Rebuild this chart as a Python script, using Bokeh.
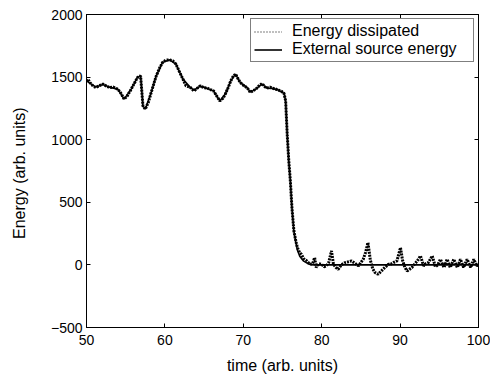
from bokeh.plotting import figure
from bokeh.models import LinearAxis, Legend, LegendItem, FixedTicker, Range1d
from bokeh.embed import file_html
from bokeh.resources import INLINE

# Energy dissipated (dotted)
diss_t = [50.0, 50.17, 50.4, 50.6, 50.9, 51.2, 51.6, 52.1, 52.5, 52.9, 53.4, 54.0, 54.4, 54.8,
          55.2, 55.7, 56.1, 56.5, 56.9, 57.2, 57.5, 57.9, 58.25, 58.6, 58.9, 59.3, 59.7, 60.1,
          60.6, 61.0, 61.4, 61.8, 62.3, 62.7, 63.2, 63.7, 64.1, 64.5, 65.0, 65.4, 65.8, 66.2,
          66.6, 67.0, 67.4, 67.7, 68.1, 68.4, 68.7, 69.0, 69.3, 69.6, 70.1, 70.5, 70.9, 71.2,
          71.6, 72.0, 72.4, 72.7, 73.0, 73.4, 73.7, 74.1, 74.5, 74.9, 75.2, 75.4, 75.6, 75.8,
          76.0, 76.2, 76.45, 76.7, 76.9, 77.2, 77.4, 77.7, 78.1, 78.4, 78.7, 78.9, 79.1, 79.3,
          79.6, 80.0, 80.3, 80.6, 80.9, 81.25, 81.5, 81.8, 82.1, 82.5, 82.95, 83.4, 83.8, 84.2,
          84.7, 85.0, 85.3, 85.6, 85.9, 86.2, 86.5, 86.8, 87.2, 87.6, 88.05, 88.5, 88.8, 89.2,
          89.6, 90.05, 90.3, 90.6, 90.9, 91.5, 91.9, 92.2, 92.6, 93.0, 93.3, 93.6, 94.1, 94.5,
          94.8, 95.15, 95.6, 96.0, 96.4, 96.85, 97.3, 97.7, 98.1, 98.55, 99.0, 99.4, 99.8, 100.0]
diss_e = [1470, 1484, 1460, 1444, 1425, 1417, 1430, 1444, 1430, 1417, 1420, 1404, 1370, 1324,
          1350, 1404, 1450, 1497, 1510, 1270, 1244, 1300, 1377, 1450, 1510, 1570, 1617, 1635,
          1638, 1630, 1604, 1550, 1484, 1430, 1420, 1390, 1410, 1430, 1415, 1412, 1400, 1390,
          1350, 1310, 1330, 1364, 1420, 1470, 1505, 1524, 1490, 1457, 1430, 1415, 1377, 1390,
          1404, 1430, 1449, 1425, 1412, 1420, 1412, 1405, 1396, 1385, 1369, 1310, 1044, 831,
          671, 460, 272, 190, 138, 95, 85, 50, 32, 10, 5, 20, 58, -21,
          10, 5, -15, -8, 20, 112, 5, -20, -35, 0, 18, 25, 32, 15,
          -8, 20, 45, 100, 178, 40, -30, -61, -75, -50, -21, 5, 5, 20,
          32, 138, 40, -20, -48, -21, 10, 32, 72, -8, 10, 18, 72, -15,
          0, 45, -21, 45, -21, 45, -21, 45, -21, 45, -21, 45, -10, 10]

# External source energy (solid)
ext_t = [50.0, 50.6, 51.2, 52.1, 52.9, 54.0, 54.8, 55.7, 56.5, 56.9, 57.2, 57.5, 58.25, 58.9,
         59.7, 60.6, 61.4, 62.3, 63.2, 63.7, 64.5, 65.4, 66.2, 67.0, 67.7, 68.4, 69.0, 69.6,
         70.5, 70.9, 71.6, 72.4, 73.0, 73.7, 74.5, 75.2, 75.4, 75.6, 75.8, 76.0, 76.2, 76.45,
         76.7, 76.9, 77.2, 77.7, 78.3, 79.0, 100.0]
ext_e = [1470, 1444, 1420, 1440, 1420, 1404, 1324, 1404, 1497, 1510, 1270, 1244, 1377, 1510,
         1617, 1638, 1604, 1484, 1420, 1395, 1428, 1410, 1390, 1310, 1364, 1470, 1524, 1457,
         1415, 1380, 1404, 1445, 1412, 1410, 1396, 1369, 1310, 1044, 831, 671, 460, 272,
         180, 120, 70, 30, 8, 0, 0]

x_ticks = [50, 60, 70, 80, 90, 100]
y_ticks = [-500, 0, 500, 1000, 1500, 2000]
series_labels = ["Energy dissipated", "External source energy"]

FONT = "Liberation Sans"

p = figure(width=490, height=377, x_range=Range1d(50, 100), y_range=Range1d(-500, 2000),
           output_backend="svg", toolbar_location=None,
           min_border_left=86, min_border_right=12, min_border_top=14, min_border_bottom=50)
p.xgrid.visible = False
p.ygrid.visible = False
p.outline_line_color = "black"
p.background_fill_color = "white"
p.border_fill_color = "white"

r_ext = p.line(ext_t, ext_e, line_color="black", line_width=1.6)
r_diss = p.line(diss_t, diss_e, line_color="black", line_width=3, line_dash="2 1")
# legend key: one-sample line (draws nothing in the plot) with the fine dotted style of the reference key
r_diss_key = p.line(diss_t[:1], diss_e[:1], line_color="black", line_width=1.2, line_dash="1 2")

xa = p.xaxis[0]
ya = p.yaxis[0]
xa.ticker = FixedTicker(ticks=x_ticks)
ya.ticker = FixedTicker(ticks=y_ticks)
for ax in (xa, ya):
    ax.axis_line_color = "black"
    ax.major_tick_line_color = "black"
    ax.major_tick_in = 4
    ax.major_tick_out = 0
    ax.minor_tick_line_color = None
    ax.major_label_text_font = FONT
    ax.major_label_text_font_size = "14px"
    ax.major_label_text_color = "black"
    ax.axis_label_text_font = FONT
    ax.axis_label_text_font_size = "16px"
    ax.axis_label_text_font_style = "normal"
    ax.axis_label_text_color = "black"
xa.axis_label = "time (arb. units)"
ya.axis_label = "Energy  (arb. units)"
xa.major_label_standoff = 7
xa.axis_label_standoff = 9
ya.major_label_standoff = 4
ya.axis_label_standoff = 20

top = LinearAxis(ticker=FixedTicker(ticks=x_ticks))
right = LinearAxis(ticker=FixedTicker(ticks=y_ticks))
top.major_label_overrides = {t: "" for t in x_ticks}
right.major_label_overrides = {t: "" for t in y_ticks}
for ax in (top, right):
    ax.axis_line_color = "black"
    ax.major_tick_line_color = "black"
    ax.major_tick_in = 4
    ax.major_tick_out = 0
    ax.minor_tick_line_color = None
    ax.major_label_text_font_size = "1px"
    ax.major_label_standoff = 0
p.add_layout(top, "above")
p.add_layout(right, "right")

legend = Legend(items=[LegendItem(label=series_labels[0], renderers=[r_diss_key]),
                       LegendItem(label=series_labels[1], renderers=[r_ext])],
                location="top_right")
legend.margin = 4
legend.padding = 3
legend.spacing = 0
legend.glyph_width = 28
legend.glyph_height = 17
legend.label_height = 17
legend.label_width = 178
legend.label_standoff = 10
legend.label_text_font = FONT
legend.label_text_font_size = "16px"
legend.label_text_color = "black"
legend.border_line_color = "black"
legend.border_line_width = 1
legend.background_fill_color = "white"
legend.background_fill_alpha = 1
p.add_layout(legend, "center")

open("out.html", "w").write(file_html(p, INLINE))
